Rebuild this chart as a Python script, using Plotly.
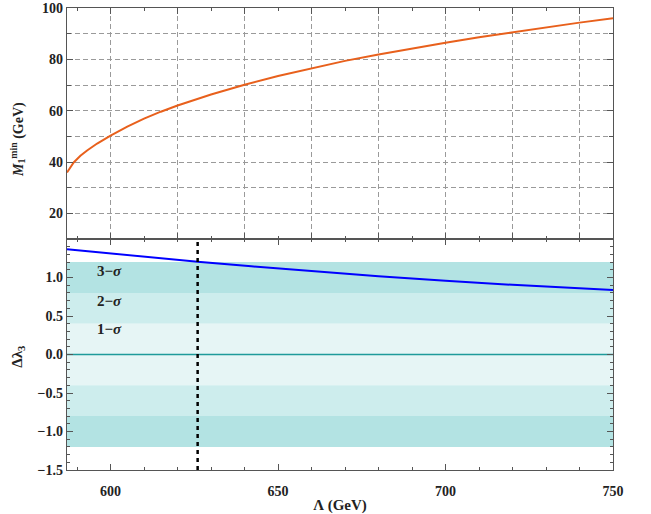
import plotly.graph_objects as go

# ---- data ----
lam_top = [587, 588, 589, 591, 593, 596, 600, 605, 610, 615, 620, 630, 640, 650, 660, 670, 680, 690, 700, 710, 720, 730, 740, 750]
m1_min = [35.9, 38.1, 39.8, 42.4, 44.5, 47.2, 50.3, 53.8, 56.9, 59.6, 62.0, 66.3, 70.1, 73.5, 76.6, 79.4, 81.9, 84.3, 86.5, 88.6, 90.6, 92.5, 94.3, 96.0]

lam_bot = [587, 600, 626, 642, 660, 680, 700, 720, 750]
dlam3 = [1.368, 1.313, 1.203, 1.145, 1.081, 1.016, 0.957, 0.905, 0.837]

lam_cut = 626
band_lo = [0.8, 0.4, -0.4, -0.8, -1.2]
band_hi = [1.2, 0.8, 0.4, -0.4, -0.8]
band_col = ["#b3e3e3", "#cdeded", "#e6f5f5", "#cdeded", "#b3e3e3"]
sigma_labels = ["3\u2212<i>σ</i>", "2\u2212<i>σ</i>", "1\u2212<i>σ</i>"]
sigma_y = [1.08, 0.70, 0.33]

x_range = [587, 750]
top_yticks = [20, 40, 60, 80, 100]
top_xgrid = list(range(600, 741, 20))
bot_xticks = [600, 650, 700, 750]
bot_yticks = [-1.5, -1.0, -0.5, 0.0, 0.5, 1.0]
bot_yticktext = ["\u22121.5", "\u22121.0", "\u22120.5", "0.0", "0.5", "1.0"]

FONT = "Liberation Serif"
AXC = "#555555"
TXT = "#222222"
GRIDC = "#9a9a9a"

fig = go.Figure()

for lo, hi, c in zip(band_lo, band_hi, band_col):
    fig.add_shape(type="rect", xref="x2 domain", yref="y2", x0=0, x1=1, y0=lo, y1=hi,
                  fillcolor=c, line_width=0, layer="below")

fig.add_trace(go.Scatter(x=lam_top, y=m1_min, mode="lines", line=dict(color="#e8601c", width=2),
                         xaxis="x", yaxis="y", showlegend=False))
fig.add_trace(go.Scatter(x=x_range, y=[0, 0], mode="lines", line=dict(color="#1e9a9a", width=1.6),
                         xaxis="x2", yaxis="y2", showlegend=False))
fig.add_trace(go.Scatter(x=lam_bot, y=dlam3, mode="lines", line=dict(color="#0000ff", width=2),
                         xaxis="x2", yaxis="y2", showlegend=False))
fig.add_trace(go.Scatter(x=[lam_cut, lam_cut], y=[-1.5, 1.5], mode="lines",
                         line=dict(color="black", width=2.5, dash="4px,4px"),
                         xaxis="x2", yaxis="y2", showlegend=False))

for t, yv in zip(sigma_labels, sigma_y):
    fig.add_annotation(x=595.5, y=yv, xref="x2", yref="y2", text=t, showarrow=False, xanchor="left",
                       font=dict(family=FONT, size=15, color=TXT, weight="bold"))

tickfont = dict(family=FONT, size=14, color=TXT, weight="bold")
common = dict(showline=True, linecolor=AXC, linewidth=1.3, mirror="ticks", ticks="inside",
              tickcolor=AXC, zeroline=False, tickfont=tickfont, automargin=False)

fig.update_layout(
    width=651, height=514, margin=dict(l=67, r=38, t=8, b=44),
    paper_bgcolor="white", plot_bgcolor="white",
    font=dict(family=FONT, color=TXT),
    xaxis=dict(domain=[0, 1], anchor="y", range=x_range, tickvals=top_xgrid, showticklabels=False,
               ticklen=6, showgrid=True, gridcolor=GRIDC, griddash="5px,3px", gridwidth=1,
               minor=dict(dtick=10, tick0=0, ticks="inside", ticklen=3, tickcolor=AXC, showgrid=False),
               **common),
    yaxis=dict(domain=[0.5, 1], anchor="x", range=[10, 100], tickvals=top_yticks,
               ticklen=6, showgrid=True, gridcolor=GRIDC, griddash="5px,3px", gridwidth=1,
               minor=dict(dtick=10, tick0=0, ticks="inside", ticklen=4, tickcolor=AXC,
                          showgrid=True, gridcolor=GRIDC, griddash="5px,3px", gridwidth=1),
               **common),
    xaxis2=dict(domain=[0, 1], anchor="y2", range=x_range, tickvals=bot_xticks, ticklen=6, showgrid=False,
                ticklabelstandoff=8,
                minor=dict(dtick=10, tick0=0, ticks="inside", ticklen=3, tickcolor=AXC, showgrid=False),
                title=dict(text="Λ (GeV)", font=dict(family=FONT, size=15, color=TXT, weight="bold"), standoff=2),
                **common),
    yaxis2=dict(domain=[0, 0.5], anchor="x2", range=[-1.5, 1.5], tickvals=bot_yticks, ticktext=bot_yticktext,
                ticklen=6, showgrid=False,
                minor=dict(dtick=0.1, tick0=0, ticks="inside", ticklen=3, tickcolor=AXC, showgrid=False),
                **common),
)

fig.add_annotation(xref="paper", yref="paper", x=-0.09, y=0.716, xanchor="center", yanchor="middle",
                   textangle=-90, showarrow=False,
                   text="<i>M</i><sub>1</sub><sup>min</sup> (GeV)",
                   font=dict(family=FONT, size=14, color=TXT, weight="bold"))
fig.add_annotation(xref="paper", yref="paper", x=-0.09, y=0.245, xanchor="center", yanchor="middle",
                   textangle=-90, showarrow=False,
                   text="Δλ<sub>3</sub>",
                   font=dict(family=FONT, size=15, color=TXT, weight="bold"))

fig.write_html("out.html")
